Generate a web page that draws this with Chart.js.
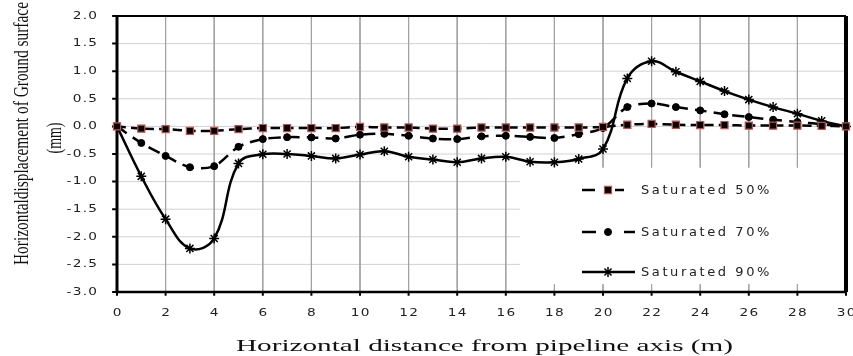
<!DOCTYPE html>
<html><head><meta charset="utf-8">
<script src="https://cdn.jsdelivr.net/npm/chart.js@4.4.1/dist/chart.umd.min.js"></script>
<style>html,body{margin:0;padding:0;background:#fff;overflow:hidden}#wrap{width:853px;height:356px;position:relative}</style>
</head><body><div id="wrap"><canvas id="c" width="853" height="356"></canvas></div>
<script>
// ---- data ----
const distance = [0,1,2,3,4,5,6,7,8,9,10,11,12,13,14,15,16,17,18,19,20,21,22,23,24,25,26,27,28,29,30];
const sat50 = [0,-0.04,-0.05,-0.08,-0.08,-0.05,-0.03,-0.03,-0.03,-0.03,-0.01,-0.02,-0.02,-0.04,-0.04,-0.02,-0.02,-0.02,-0.02,-0.02,-0.01,0.03,0.045,0.03,0.025,0.025,0.015,0.015,0.015,0.01,0];
const sat70 = [0,-0.3,-0.535,-0.74,-0.72,-0.37,-0.23,-0.195,-0.2,-0.22,-0.15,-0.135,-0.17,-0.22,-0.23,-0.18,-0.17,-0.19,-0.21,-0.14,-0.03,0.35,0.415,0.35,0.29,0.22,0.17,0.12,0.08,0.04,0];
const sat90 = [0,-0.905,-1.68,-2.21,-2.03,-0.67,-0.505,-0.5,-0.535,-0.58,-0.51,-0.45,-0.55,-0.6,-0.65,-0.58,-0.55,-0.64,-0.65,-0.59,-0.41,0.87,1.18,0.99,0.815,0.64,0.486,0.35,0.23,0.1,0];
const seriesNames = ['Saturated 50%','Saturated 70%','Saturated 90%'];
const xTitle = 'Horizontal distance from pipeline axis (m)';
const yTitle1 = 'Horizontaldisplacement of Ground surface';
const yTitle2 = '(mm)';
const xMin = 0, xMax = 30, xStep = 2;
const yMin = -3, yMax = 2, yStep = 0.5;
// legend panel extent in axis units (area kept free of grid)
const legendBox = { x0: 16.58, yTop: -0.746, yBot: -2.86 };

const pts = arr => distance.map((d,i)=>({x:d,y:arr[i]}));
const xTickVals = []; for (let k = 0; xMin + k*xStep <= xMax + 1e-9; k++) xTickVals.push(xMin + k*xStep);
const yTickVals = []; for (let k = 0; yMin + k*yStep <= yMax + 1e-9; k++) yTickVals.push(+(yMin + k*yStep).toFixed(2));

// grid / frame / tick-mark line sets (drawn by the library beneath the series)
const vGrid = [], hGrid = [], xTickMarks = [], yTickMarks = [];
xTickVals.filter(v => v > xMin && v < xMax).forEach(v => {
  if (v >= legendBox.x0) vGrid.push({x:v,y:yMax},{x:v,y:legendBox.yTop},{x:v,y:null},{x:v,y:legendBox.yBot},{x:v,y:yMin},{x:v,y:null});
  else vGrid.push({x:v,y:yMax},{x:v,y:yMin},{x:v,y:null});
});
yTickVals.filter(v => v > yMin && v < yMax).forEach(v => {
  const end = (v <= legendBox.yTop && v >= legendBox.yBot) ? legendBox.x0 : xMax;
  hGrid.push({x:xMin,y:v},{x:end,y:v},{x:end,y:null});
});
const xTickLen = 0.07, yTickLen = 0.2;
xTickVals.forEach(v => xTickMarks.push({x:v,y:yMin},{x:v,y:yMin - xTickLen},{x:v,y:null}));
yTickVals.forEach(v => yTickMarks.push({x:xMin - yTickLen,y:v},{x:xMin,y:v},{x:xMin,y:null}));

const guide = (data, color, width, order, clip) => ({ data, borderColor:color, borderWidth:width, pointRadius:0, tension:0,
  spanGaps:false, fill:false, order, clip, isGuide:true });

function line(ctx, x1, y1, x2, y2){ ctx.beginPath(); ctx.moveTo(x1,y1); ctx.lineTo(x2,y2); ctx.stroke(); }

function spacedText(ctx, txt, x, y, sp, align){
  const chars = Array.from(txt);
  const ws = chars.map(ch => ctx.measureText(ch).width);
  const total = ws.reduce((s,w)=>s+w,0) + sp*(chars.length-1);
  let cx = align === 'right' ? x - total : align === 'center' ? x - total/2 : x;
  chars.forEach((ch,i) => { ctx.fillText(ch, cx, y); cx += ws[i] + sp; });
}

function stretchText(ctx, text, font, cx, cy, targetW, rot){
  ctx.save();
  ctx.font = font;
  const w = ctx.measureText(text).width;
  ctx.translate(cx, cy);
  if (rot) ctx.rotate(rot);
  ctx.scale(targetW / w, 1);
  ctx.textAlign = 'center';
  ctx.textBaseline = 'alphabetic';
  ctx.fillStyle = '#111';
  ctx.fillText(text, 0, 0);
  ctx.restore();
}

const deco = {
  id:'deco',
  afterDraw(c){
    const ctx = c.ctx, sx = c.scales.x, sy = c.scales.y;
    const left = sx.getPixelForValue(xMin), bottom = sy.getPixelForValue(yMin);
    // tick labels, positioned by the scales
    ctx.save();
    ctx.font = '10.5px "DejaVu Sans"'; ctx.fillStyle = '#222';
    ctx.textAlign = 'left'; ctx.textBaseline = 'middle';
    const k = 1.3;
    yTickVals.forEach(v => {
      ctx.save(); ctx.translate(left - 20, sy.getPixelForValue(v)); ctx.scale(k, 1);
      spacedText(ctx, v.toFixed(1), 0, 0, 1, 'right'); ctx.restore();
    });
    xTickVals.forEach(v => {
      ctx.save(); ctx.translate(sx.getPixelForValue(v), bottom + 21); ctx.scale(k, 1);
      spacedText(ctx, String(v), 0, 0, 1, 'center'); ctx.restore();
    });
    ctx.restore();

    // legend
    const ys = [190, 232, 272];
    const segs = [[[582,595],[615,624]], [[582,596],[624,635]], [[582,635]]];
    c.data.datasets.filter(ds => !ds.isGuide).forEach((ds, i) => {
      const y = ys[i], mx = 608;
      ctx.save();
      ctx.strokeStyle = '#000'; ctx.lineWidth = 2.5;
      segs[i].forEach(s => line(ctx, s[0], y, s[1], y));
      ctx.fillStyle = ds.pointBackgroundColor; ctx.strokeStyle = ds.pointBorderColor; ctx.lineWidth = ds.pointBorderWidth;
      const r = ds.pointRadius;
      if (ds.pointStyle === 'rect') {
        const h = r * Math.SQRT1_2;
        ctx.beginPath(); ctx.rect(mx - h, y - h, 2*h, 2*h); ctx.fill(); ctx.stroke();
      } else if (ds.pointStyle === 'circle') {
        ctx.beginPath(); ctx.arc(mx, y, r, 0, Math.PI*2); ctx.fill(); ctx.stroke();
      } else {
        const d = r * Math.SQRT1_2;
        ctx.beginPath();
        ctx.moveTo(mx - r, y); ctx.lineTo(mx + r, y);
        ctx.moveTo(mx, y - r); ctx.lineTo(mx, y + r);
        ctx.moveTo(mx - d, y - d); ctx.lineTo(mx + d, y + d);
        ctx.moveTo(mx - d, y + d); ctx.lineTo(mx + d, y - d);
        ctx.stroke();
      }
      ctx.restore();
      ctx.save();
      ctx.font = '13px "DejaVu Sans"';
      ctx.fillStyle = '#222';
      ctx.textAlign = 'left'; ctx.textBaseline = 'middle';
      spacedText(ctx, ds.label, 641, y + 1, 2.6, 'left');
      ctx.restore();
    });
    // axis titles
    stretchText(ctx, xTitle, '17px "Liberation Serif"', 484.5, 351, 497, 0);
    stretchText(ctx, yTitle1, '21px "Liberation Serif"', 28, 133.5, 263, -Math.PI/2);
    stretchText(ctx, yTitle2, '21px "Liberation Serif"', 61, 138, 31, -Math.PI/2);
  }
};

new Chart(document.getElementById('c'), {
  type: 'line',
  data: {
    datasets: [
      { label: seriesNames[0], data: pts(sat50), borderColor:'#000', fill:false, borderWidth:2.5, borderDash:[9,5],
        pointStyle:'rect', pointRadius:5, pointBackgroundColor:'#000', pointBorderColor:'#c0504d', pointBorderWidth:1.2, tension:0.3, order:0, clip:8 },
      { label: seriesNames[1], data: pts(sat70), borderColor:'#000', fill:false, borderWidth:2.5, borderDash:[12,7],
        pointStyle:'circle', pointRadius:3.5, pointBackgroundColor:'#000', pointBorderColor:'#000', pointBorderWidth:1, tension:0.3, order:1, clip:8 },
      { label: seriesNames[2], data: pts(sat90), borderColor:'#000', fill:false, borderWidth:2.5,
        pointStyle:'star', pointRadius:5, pointBackgroundColor:'#000', pointBorderColor:'#000', pointBorderWidth:1.5, tension:0.4, order:2, clip:8 },
      guide(hGrid, '#d2d2d2', 1, 12, 0),
      guide(vGrid, '#a3a3a3', 1, 11, 0),
      guide([{x:xMin,y:yMin},{x:xMin,y:yMax}], '#000', 3, 6, false),
      guide([{x:xMin,y:yMin},{x:xMax,y:yMin}], '#000', 2.5, 6, false),
      guide([{x:xMin,y:yMax},{x:xMax,y:yMax}], '#000', 2, 6, false),
      guide([{x:xMax,y:yMin},{x:xMax,y:yMax}], '#000', 4, 6, false),
      guide(xTickMarks, '#000', 2, 6, false),
      guide(yTickMarks, '#000', 2, 6, false)
    ]
  },
  options: {
    responsive:false, animation:false, devicePixelRatio:1,
    layout:{ padding:{ left:109, top:16, right:7, bottom:56 } },
    plugins:{ legend:{display:false}, tooltip:{enabled:false} },
    scales:{
      x:{ type:'linear', min:xMin, max:xMax, ticks:{ stepSize:xStep, display:false }, grid:{ display:false }, border:{ display:false } },
      y:{ min:yMin, max:yMax, ticks:{ stepSize:yStep, display:false }, grid:{ display:false }, border:{ display:false } }
    }
  },
  plugins:[deco]
});
</script></body></html>
